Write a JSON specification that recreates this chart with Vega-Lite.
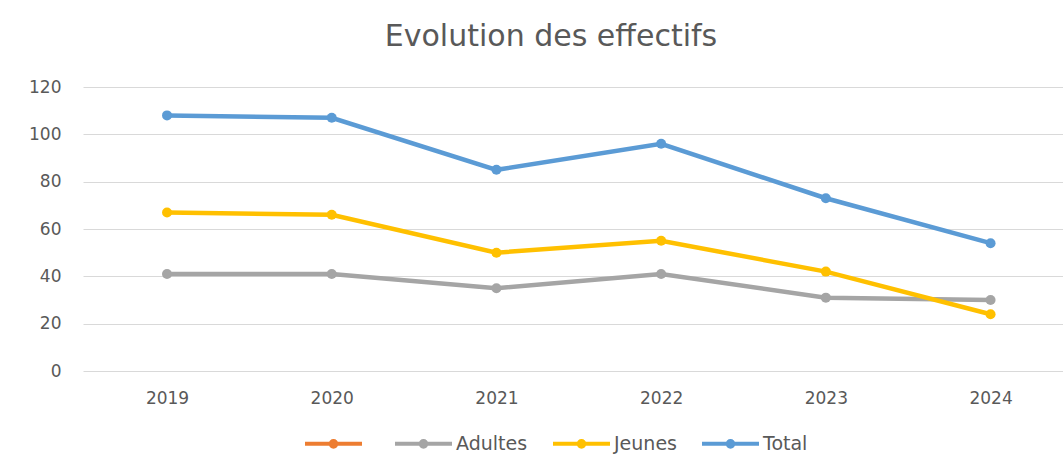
{
  "$schema": "https://vega.github.io/schema/vega-lite/v6.json",
  "autosize": {"type": "none"},
  "padding": {"left": 83, "top": 87, "right": 0, "bottom": 98},
  "width": 980,
  "height": 284,
  "background": "white",
  "title": {
    "text": "Evolution des effectifs",
    "frame": "group",
    "anchor": "middle",
    "baseline": "alphabetic",
    "offset": 2,
    "dx": -22,
    "font": "DejaVu Sans",
    "fontSize": 30,
    "fontWeight": "normal",
    "color": "#595959"
  },
  "data": {
    "values": [
      {"annee": "2019", "serie": "Adultes", "effectif": 41},
      {"annee": "2020", "serie": "Adultes", "effectif": 41},
      {"annee": "2021", "serie": "Adultes", "effectif": 35},
      {"annee": "2022", "serie": "Adultes", "effectif": 41},
      {"annee": "2023", "serie": "Adultes", "effectif": 31},
      {"annee": "2024", "serie": "Adultes", "effectif": 30},
      {"annee": "2019", "serie": "Jeunes", "effectif": 67},
      {"annee": "2020", "serie": "Jeunes", "effectif": 66},
      {"annee": "2021", "serie": "Jeunes", "effectif": 50},
      {"annee": "2022", "serie": "Jeunes", "effectif": 55},
      {"annee": "2023", "serie": "Jeunes", "effectif": 42},
      {"annee": "2024", "serie": "Jeunes", "effectif": 24},
      {"annee": "2019", "serie": "Total", "effectif": 108},
      {"annee": "2020", "serie": "Total", "effectif": 107},
      {"annee": "2021", "serie": "Total", "effectif": 85},
      {"annee": "2022", "serie": "Total", "effectif": 96},
      {"annee": "2023", "serie": "Total", "effectif": 73},
      {"annee": "2024", "serie": "Total", "effectif": 54}
    ]
  },
  "encoding": {
    "x": {
      "field": "annee",
      "type": "ordinal",
      "scale": {"type": "point", "padding": 0.475, "align": 0.537},
      "axis": {
        "title": null,
        "grid": false,
        "domain": false,
        "ticks": false,
        "labelAngle": 0,
        "labelFont": "DejaVu Sans",
        "labelFontSize": 17,
        "labelColor": "#595959",
        "labelPadding": 19
      }
    },
    "y": {
      "field": "effectif",
      "type": "quantitative",
      "scale": {"domain": [0, 120], "nice": false},
      "axis": {
        "title": null,
        "values": [0, 20, 40, 60, 80, 100, 120],
        "grid": true,
        "gridColor": "#D9D9D9",
        "gridWidth": 1,
        "domain": false,
        "ticks": false,
        "labelFont": "DejaVu Sans",
        "labelFontSize": 17,
        "labelColor": "#595959",
        "labelPadding": 22
      }
    },
    "color": {
      "field": "serie",
      "type": "nominal",
      "scale": {
        "domain": ["", "Adultes", "Jeunes", "Total"],
        "range": ["#ED7D31", "#A5A5A5", "#FFC000", "#5B9BD5"]
      },
      "legend": {
        "title": null,
        "orient": "none",
        "direction": "horizontal",
        "legendX": 220,
        "legendY": 326,
        "symbolType": "M-1,0L1,0M-0.1,0A0.1,0.1,0,1,0,0.1,0A0.1,0.1,0,1,0,-0.1,0Z",
        "symbolSize": 3249,
        "symbolStrokeWidth": 4,
        "labelFont": "DejaVu Sans",
        "labelFontSize": 19,
        "labelColor": "#595959",
        "labelOffset": 2,
        "columnPadding": 17,
        "encode": {
          "symbols": {
            "update": {
              "fill": {"scale": "color", "field": "value"},
              "stroke": {"scale": "color", "field": "value"},
              "strokeWidth": {"value": 4},
              "opacity": {"value": 1}
            }
          }
        }
      }
    }
  },
  "layer": [
    {"mark": {"type": "line", "strokeWidth": 4.5}},
    {"mark": {"type": "point", "filled": true, "size": 100, "opacity": 1}}
  ],
  "config": {
    "view": {"stroke": null},
    "font": "DejaVu Sans"
  }
}
